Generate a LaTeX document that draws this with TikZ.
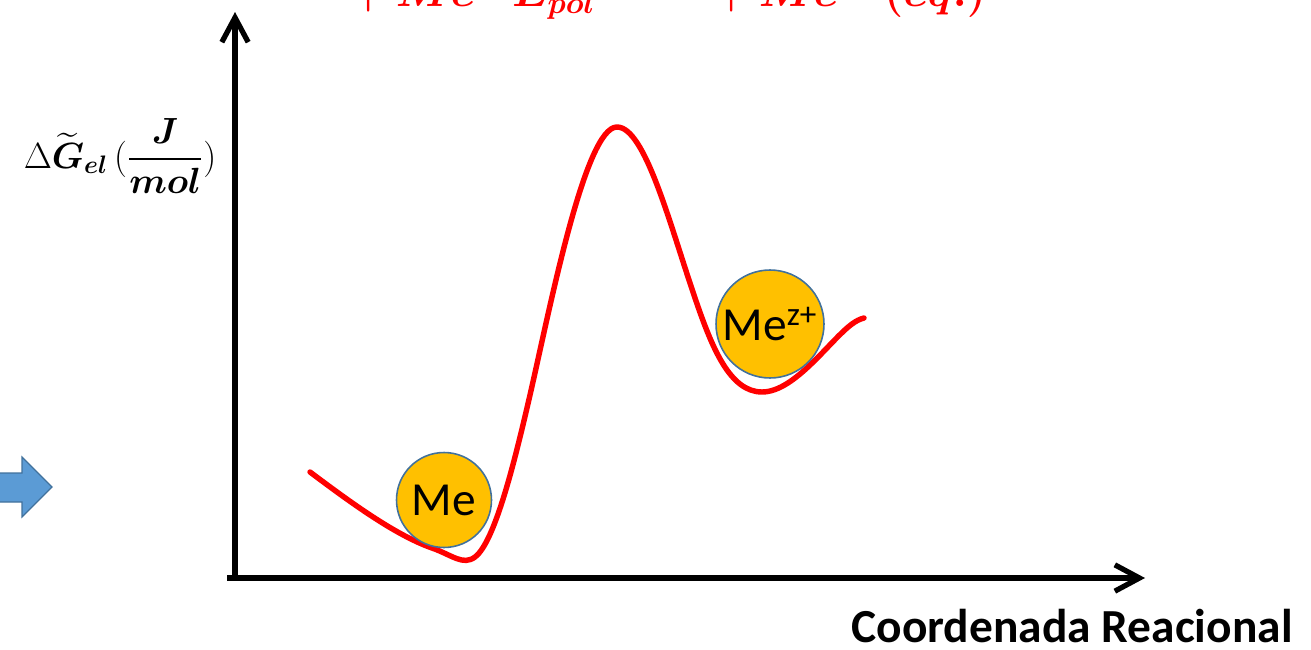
\documentclass[tikz,border=0pt]{standalone}
\usepackage{fontspec}
\usepackage{amsmath}
\setmainfont{Carlito}
\usetikzlibrary{arrows.meta}

\definecolor{ionfill}{HTML}{FFC000}
\definecolor{ionedge}{HTML}{41719C}
\definecolor{pointfill}{HTML}{5B9BD5}

\tikzset{
  axis/.style={line width=3pt, -{Straight Barb[length=14pt, width=15pt]}},
  ionball/.style={circle, draw=ionedge, line width=0.9pt, fill=ionfill, inner sep=0pt},
  eqtext/.style={text=red, anchor=base west, font=\fontsize{24}{28}\selectfont},
}

\begin{document}
\begin{tikzpicture}[x=0.02cm, y=-0.02cm]
    \useasboundingbox (0,0) rectangle (1311,649);

    % equation cut by the top edge
    \node[eqtext] (eqa) at (343,7) {$\boldsymbol{+\,Me}$};
    \node[eqtext] (eqb) at (506,7) {$\boldsymbol{E_{pol}}$};
    \node[eqtext] (eqc) at (706,7) {$\boldsymbol{+\,Me}$};
    \node[eqtext] (eqd) at (878,7) {$\boldsymbol{(eq.)}$};

    % axes
    \coordinate (yfoot) at (235,580);
    \coordinate (ytip)  at (235,12);
    \coordinate (xfoot) at (227,578);
    \coordinate (xtip)  at (1145,578);
    \draw[axis] (yfoot) -- (ytip);
    \draw[axis] (xfoot) -- (xtip);

    \node (ylab) at (120,156) {\fontsize{22}{26}\selectfont
      $\Delta\widetilde{\boldsymbol{G}}_{\boldsymbol{el}}\,(\dfrac{\boldsymbol{J}}{\boldsymbol{mol}})$};
    \node[anchor=base] (xlab) at (1072,642) {\fontsize{27}{31}\selectfont\bfseries Coordenada Reacional};

    % free energy profile
    \draw[red, line width=3.1pt, line cap=round, line join=round]
      (310,472) .. controls (350,502) and (395,535) .. (432,548)
                .. controls (452,555) and (463,566) .. (475,557)
                .. controls (495,542) and (515,460) .. (530,395)
                .. controls (550,308) and (585,127) .. (617,127)
                .. controls (645,127) and (670,225) .. (695,298)
                .. controls (712,348) and (730,392) .. (762,392)
                .. controls (795,392) and (830,340) .. (852,324)
                .. controls (856,321) and (860,319) .. (864,318);

    \node[ionball, minimum size=1.9cm] (me) at (444,500) {\fontsize{27}{31}\selectfont Me};
    \node[ionball, minimum size=2.16cm] (mez) at (770,324) {\fontsize{27}{31}\selectfont Me\textsuperscript{z+}};

    % block arrow on the left edge
    \draw[fill=pointfill, draw=ionedge, line width=0.7pt]
      (-10,473) -- (22,473) -- (22,457) -- (52,487) -- (22,517) -- (22,502) -- (-10,502) -- cycle;
\end{tikzpicture}
\end{document}
